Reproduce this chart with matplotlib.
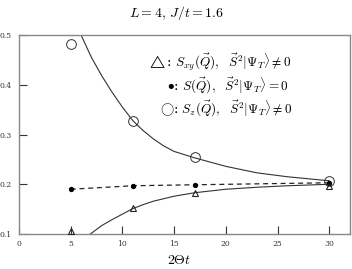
import matplotlib
matplotlib.use("Agg")
import matplotlib.pyplot as plt

plt.rcParams["mathtext.fontset"] = "cm"
plt.rcParams["font.family"] = "serif"
plt.rcParams["font.serif"] = ["DejaVu Serif"]

# ── Data ──────────────────────────────────────────────────────────────────────
beta = [5, 11, 17, 30]
s_z = [0.482, 0.327, 0.255, 0.207]       # open circles
s_q = [0.190, 0.197, 0.199, 0.203]       # filled dots (dashed)
s_xy = [0.107, 0.153, 0.183, 0.197]      # triangles

# fitted curves
fit_up_x = [6.0, 7, 8, 9, 10, 11, 12, 13, 14, 15, 17, 20, 23, 26, 30]
fit_up_y = [0.500, 0.455, 0.418, 0.385, 0.355, 0.328, 0.308, 0.291,
            0.277, 0.266, 0.253, 0.236, 0.223, 0.215, 0.207]
fit_lo_x = [6.9, 8, 9, 10, 11, 12, 13, 15, 17, 20, 23, 26, 30]
fit_lo_y = [0.100, 0.117, 0.129, 0.140, 0.151, 0.159, 0.166, 0.176,
            0.183, 0.190, 0.194, 0.197, 0.200]

# ── Plot ──────────────────────────────────────────────────────────────────────
fig = plt.figure(figsize=(3.52, 2.69), dpi=100)
ax = fig.add_axes([0.054, 0.130, 0.940, 0.740])

ax.plot(fit_up_x, fit_up_y, color="#333333", lw=0.8)
ax.plot(fit_lo_x, fit_lo_y, color="#333333", lw=0.8)
ax.plot(beta, s_q, color="#222222", lw=0.9, ls=(0, (4, 3)),
        marker="o", ms=2.8, mfc="black", mec="black")
ax.plot(beta, s_z, ls="none", marker="o", ms=7, mfc="none",
        mec="#333333", mew=0.7)
ax.plot(beta, s_xy, ls="none", marker="^", ms=5, mfc="none",
        mec="#222222", mew=0.8, clip_on=False, zorder=5)

ax.set_xlim(0, 32)
ax.set_ylim(0.1, 0.5)
ax.set_xticks([0, 5, 10, 15, 20, 25, 30])
ax.set_yticks([0.1, 0.2, 0.3, 0.4, 0.5])
ax.set_yticklabels(["0.1", "0.2", "0.3", "0.4", "0.5"])
ax.tick_params(direction="in", length=6, width=0.8, labelsize=5.5,
               colors="#333333", pad=4)
ax.tick_params(axis="y", pad=5)
for spine in ax.spines.values():
    spine.set_color("#888888")
    spine.set_linewidth(1.0)

ax.text(12.4, 0.446, r"$\triangle$: $S_{xy}(\vec{Q}),\ \ \vec{S}^2|\Psi_T\rangle \neq 0$",
        fontsize=9.5, va="center", ha="left")
ax.text(14.3, 0.397, r"$\bullet$: $S(\vec{Q}),\ \ \vec{S}^2|\Psi_T\rangle = 0$",
        fontsize=9.5, va="center", ha="left")
ax.text(13.6, 0.351, r"$\bigcirc$: $S_z(\vec{Q}),\ \ \vec{S}^2|\Psi_T\rangle \neq 0$",
        fontsize=9.5, va="center", ha="left")

fig.text(0.50, 0.950, r"$L=4,\, J/t=1.6$", fontsize=10, ha="center", va="center")
fig.text(0.51, 0.035, r"$2\Theta t$", fontsize=10, ha="center", va="center")

fig.savefig("out.png", dpi=100)
